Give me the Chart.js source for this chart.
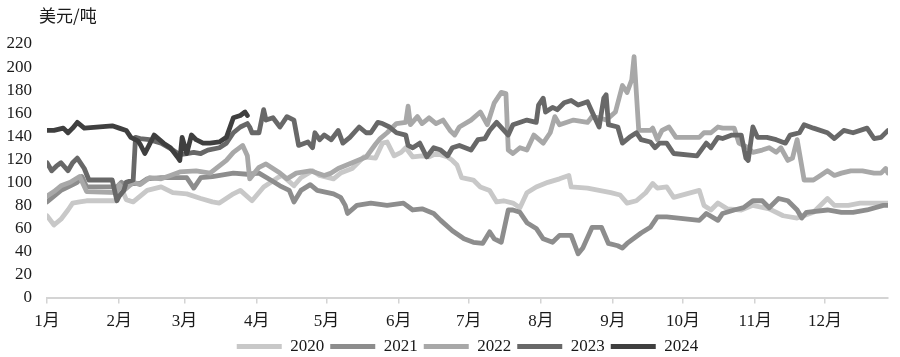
<!DOCTYPE html>
<html>
<head>
<meta charset="utf-8">
<script src="https://cdn.jsdelivr.net/npm/chart.js@4.4.1/dist/chart.umd.min.js"></script>
<style>
  html, body { margin: 0; padding: 0; background: #ffffff; }
  #wrap { width: 900px; height: 357px; position: relative; }
</style>
</head>
<body>
<div id="wrap"><canvas id="c"></canvas></div>
<script>
// ---- data (x = day of year, 0 = 1 Jan) ----
const unitText = '美元/吨';
const seriesNames = ['2020', '2021', '2022', '2023', '2024'];
const monthDays = [0, 31, 59, 90, 120, 151, 181, 212, 243, 273, 304, 334];
const monthLabels = ['1月', '2月', '3月', '4月', '5月', '6月', '7月', '8月', '9月', '10月', '11月', '12月'];
const yTickValues = [0, 20, 40, 60, 80, 100, 120, 140, 160, 180, 200, 220];

const days2020 = [0,3,6,9,11,14,17,30,32,34,37,43,49,54,60,66,71,74,80,83,88,93,99,101,106,109,114,117,123,126,131,136,141,144,146,149,152,154,157,161,164,167,172,174,176,178,183,186,190,193,196,200,203,206,210,215,220,224,225,232,237,242,246,249,253,257,260,262,266,269,280,282,285,288,292,298,303,310,316,322,329,335,338,344,349,361];
const vals2020 = [71,63,68,76,82,83,84,84,95,85,83,93,96,91,90,86,83,82,90,93,84,96,104,106,97,104,110,106,103,108,112,122,121,134,135,123,126,130,122,123,122,125,122,119,115,104,102,96,93,83,84,82,78,91,96,100,103,106,96,95,93,91,89,82,84,91,99,95,96,87,93,80,76,82,77,76,80,77,71,69,74,86,80,80,82,82];

const days2021 = [0,3,6,10,13,15,17,21,30,32,34,37,40,43,49,55,60,63,66,71,80,86,91,96,100,104,106,109,113,116,123,126,128,129,133,139,146,153,157,161,166,169,174,179,183,187,190,192,195,198,200,203,206,210,213,217,220,225,228,230,234,238,241,245,247,249,255,259,262,266,280,283,288,290,295,299,303,307,310,314,318,322,324,326,335,341,346,352,359,361];
const vals2021 = [83,88,93,97,100,105,96,96,96,100,97,99,99,103,104,104,104,95,104,105,108,107,108,102,97,93,83,93,98,93,90,87,80,73,80,82,80,82,76,77,73,67,58,51,48,47,57,51,48,76,76,74,65,60,51,48,54,54,38,43,61,61,47,45,43,47,56,61,70,70,67,73,67,73,76,78,84,84,78,86,84,76,69,74,76,74,74,76,80,80];

const days2022 = [0,3,6,10,14,17,30,31,33,37,40,44,49,53,57,64,70,77,80,84,86,87,91,94,100,103,107,113,119,122,125,131,137,141,143,146,150,154,155,156,159,161,164,167,170,173,175,177,182,186,189,192,195,197,198,200,203,206,209,213,216,218,220,226,232,234,237,240,244,247,249,251,252,254,256,259,260,262,264,267,270,280,282,285,288,290,295,297,301,303,307,310,313,315,318,320,322,325,329,332,335,338,341,345,350,355,358,360,361];
const vals2022 = [88,92,97,100,105,92,91,98,93,100,98,104,103,106,109,110,108,119,126,132,123,103,113,116,108,103,108,110,106,108,112,117,122,133,138,143,151,152,166,150,157,151,156,151,154,145,141,148,154,161,150,169,178,177,128,125,130,128,141,134,143,157,150,154,152,157,156,154,161,184,178,189,209,145,145,145,147,137,145,148,139,139,143,143,148,147,147,134,130,126,128,130,126,130,119,121,137,102,102,106,110,106,108,110,110,108,108,112,108];

const days2023 = [0,2,4,6,9,11,13,16,18,28,30,31,33,34,37,38,40,44,49,54,57,60,63,66,69,74,77,80,83,86,87,88,91,93,94,97,100,103,106,107,108,112,114,115,117,119,122,125,127,130,134,137,139,142,144,147,150,154,155,157,160,163,166,169,172,174,177,182,185,188,190,193,198,200,206,210,211,213,214,217,219,222,225,228,232,234,237,239,240,241,245,247,250,253,255,259,261,263,266,269,279,283,285,288,290,294,298,300,301,303,305,309,313,317,319,323,325,329,335,338,342,346,352,355,358,361];
const vals2023 = [117,110,114,117,110,117,121,112,102,102,84,88,93,100,102,139,138,137,134,128,124,125,126,125,128,130,134,143,148,151,148,143,143,163,154,156,148,157,154,143,132,135,130,143,137,141,137,145,134,139,148,143,143,152,151,148,143,141,132,130,134,122,130,128,123,130,132,128,137,138,145,152,141,150,154,152,167,173,161,165,163,169,171,167,170,161,148,173,176,150,148,134,139,143,137,135,130,134,134,125,123,134,130,139,138,141,141,121,119,148,139,139,137,134,141,143,150,147,143,138,145,143,147,138,139,145];

const days2024 = [0,3,7,9,11,13,16,28,31,34,36,39,40,42,46,50,53,56,57,58,60,62,64,67,70,74,77,80,83,85,86];
const vals2024 = [145,145,147,143,147,152,147,149,147,145,139,136,133,125,141,134,130,122,119,139,125,141,137,134,134,135,139,156,158,161,158];

const seriesColors = ['#c8c8c8', '#8d8d8d', '#a8a8a8', '#686868', '#3f3f3f'];

// ---- build ----
function toPoints(days, vals) { return days.map((d, i) => ({ x: d, y: vals[i] })); }
const allDays = [days2020, days2021, days2022, days2023, days2024];
const allVals = [vals2020, vals2021, vals2022, vals2023, vals2024];

const datasets = seriesNames.map((name, i) => ({
  label: name,
  data: toPoints(allDays[i], allVals[i]),
  borderColor: seriesColors[i],
  backgroundColor: seriesColors[i],
  borderWidth: 4.8,
  borderCapStyle: 'round',
  borderJoinStyle: 'round',
  pointRadius: 0,
  pointHoverRadius: 0,
  tension: 0,
  fill: false,
  order: seriesNames.length - i
}));

const FONT = "'Liberation Serif', 'Noto Sans CJK SC', serif";

const unitLabelPlugin = {
  id: 'unitLabel',
  afterDraw(chart) {
    const ctx = chart.ctx;
    ctx.save();
    ctx.font = "17px 'Noto Sans CJK SC', sans-serif";
    ctx.fillStyle = '#1a1a1a';
    ctx.textBaseline = 'middle';
    ctx.textAlign = 'left';
    ctx.fillText(unitText, 39, 16);
    ctx.restore();
  }
};

new Chart(document.getElementById('c'), {
  type: 'line',
  data: { datasets },
  options: {
    responsive: true,
    maintainAspectRatio: false,
    animation: false,
    parsing: false,
    layout: { padding: { top: 44, right: 12, bottom: -8, left: 0 } },
    plugins: {
      legend: {
        position: 'bottom',
        fullSize: false,
        labels: {
          usePointStyle: true,
          pointStyle: 'line',
          pointStyleWidth: 45,
          padding: 6,
          color: '#1a1a1a',
          font: { family: FONT, size: 17 },
          sort: (a, b) => a.datasetIndex - b.datasetIndex
        }
      },
      tooltip: { enabled: false }
    },
    scales: {
      x: {
        type: 'linear',
        min: 0,
        max: 361,
        afterBuildTicks: (scale) => { scale.ticks = monthDays.map(v => ({ value: v })); },
        afterFit: (scale) => { scale.height -= 8; },
        ticks: {
          autoSkip: false,
          maxRotation: 0,
          padding: 8,
          color: '#1a1a1a',
          font: { family: FONT, size: 17 },
          callback: (v) => monthLabels[monthDays.indexOf(v)]
        },
        grid: { drawOnChartArea: false, drawTicks: true, tickLength: 6, color: '#d4d4d4', lineWidth: 1.5 },
        border: { display: true, color: '#d4d4d4', width: 2 }
      },
      y: {
        min: 0,
        max: 220,
        afterBuildTicks: (scale) => { scale.ticks = yTickValues.map(v => ({ value: v })); },
        afterFit: (scale) => { scale.width = 47; },
        ticks: {
          autoSkip: false,
          padding: 15,
          color: '#1a1a1a',
          font: { family: FONT, size: 17 }
        },
        grid: { display: false, drawTicks: false },
        border: { display: false }
      }
    }
  },
  plugins: [unitLabelPlugin]
});
</script>
</body>
</html>
